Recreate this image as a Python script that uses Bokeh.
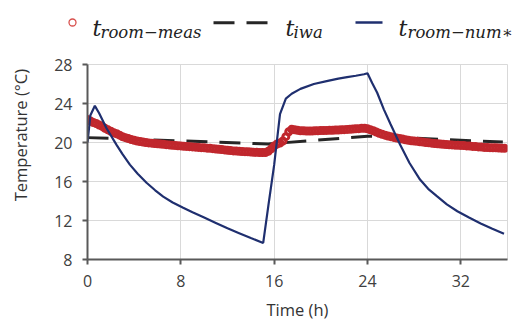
import numpy as np
from bokeh.plotting import figure
from bokeh.layouts import column, row
from bokeh.models import Range1d, FixedTicker
from bokeh.core.properties import value
from bokeh.embed import file_html
from bokeh.resources import INLINE

# ---------------- data ----------------
# measured room temperature, sampled every 15 min
meas_time = [i * 0.25 for i in range(144)]
meas_temp = [
    22.35, 22.2, 22.05, 21.95, 21.8, 21.65, 21.45, 21.3,
    21.15, 21.0, 20.9, 20.75, 20.6, 20.5, 20.4, 20.3,
    20.22, 20.15, 20.1, 20.05, 20.0, 19.96, 19.93, 19.9,
    19.87, 19.84, 19.81, 19.78, 19.75, 19.72, 19.7, 19.67,
    19.65, 19.62, 19.6, 19.57, 19.55, 19.52, 19.5, 19.47,
    19.45, 19.42, 19.4, 19.37, 19.33, 19.3, 19.27, 19.24,
    19.2, 19.17, 19.14, 19.12, 19.1, 19.08, 19.06, 19.04,
    19.02, 19.0, 18.99, 18.98, 18.97, 18.98, 19.1, 19.35,
    19.65, 19.85, 19.95, 20.15, 20.6, 21.1, 21.35, 21.3,
    21.25, 21.2, 21.2, 21.18, 21.18, 21.18, 21.2, 21.2,
    21.22, 21.22, 21.24, 21.25, 21.26, 21.27, 21.28, 21.3,
    21.32, 21.34, 21.36, 21.38, 21.4, 21.42, 21.45, 21.45,
    21.4, 21.3, 21.2, 21.08, 20.95, 20.85, 20.75, 20.67,
    20.6, 20.52, 20.45, 20.4, 20.35, 20.28, 20.22, 20.18,
    20.15, 20.12, 20.08, 20.04, 20.0, 19.97, 19.93, 19.9,
    19.87, 19.85, 19.82, 19.8, 19.77, 19.75, 19.73, 19.71,
    19.7, 19.68, 19.65, 19.63, 19.6, 19.58, 19.55, 19.53,
    19.5, 19.49, 19.47, 19.46, 19.45, 19.43, 19.42, 19.4,
]

# numerical room temperature
num_time = [0, 0.25, 0.63, 1.0, 1.63, 2.49, 3.0, 3.63, 4.3, 5.06, 5.8, 6.49, 7.3,
            8.2, 9.0, 10.0, 11.0, 12.0, 13.0, 14.0, 15.06, 15.5, 16.0, 16.5, 17.0,
            17.5, 18.25, 19.4, 20.5, 21.5, 22.25, 23.0, 23.7, 24.0, 24.4, 24.83,
            25.4, 25.97, 26.8, 27.6, 28.5, 29.2, 29.97, 30.8, 31.7, 32.7, 33.7,
            34.7, 35.7]
num_temp = [20.0, 22.8, 23.76, 23.0, 21.46, 19.76, 18.8, 17.73, 16.8, 15.87, 15.1, 14.45, 13.85,
            13.3, 12.85, 12.3, 11.75, 11.2, 10.7, 10.2, 9.7, 13.5, 17.7, 22.9, 24.5,
            25.0, 25.5, 26.0, 26.3, 26.55, 26.7, 26.85, 27.0, 27.1, 26.1, 25.1,
            23.4, 21.9, 19.77, 17.9, 16.2, 15.25, 14.47, 13.65, 12.95, 12.3, 11.7,
            11.15, 10.65]

# t_iwa
iwa_time = [0, 15.5, 24.0, 35.6]
iwa_temp = [20.5, 19.85, 20.65, 20.05]

x_ticks = [0, 8, 16, 24, 32]
y_ticks = [8, 12, 16, 20, 24, 28]

legend_main = ["t", "t", "t"]
legend_sub = ["room\u2212meas", "iwa", "room\u2212num\u2217"]
x_title = "Time (h)"
y_title = "Temperature (\u00b0C)"

# ---------------- style ----------------
RED = "#C0272D"
NAVY = "#1F2F6F"
DARK = "#262626"
GRID = "#D9D9D9"
AXIS = "#595959"
TXT = "#404040"
TITLE = "#333333"
FONT = "Open Sans"

W = 517
LEG_H = 44
MAIN_H = 279
YL_W = 40

# ---------------- legend strip ----------------
leg = figure(width=W, height=LEG_H, x_range=Range1d(0, W), y_range=Range1d(LEG_H, 0),
             toolbar_location=None, output_backend="svg",
             x_axis_type=None, y_axis_type=None, min_border=0,
             outline_line_color=None)
leg.scatter([72], [22], marker="circle", size=7, fill_color=None,
            line_color="#D8504D", line_width=1.3)
leg.line([213, 267], [22.3, 22.3], line_color=DARK, line_width=3, line_dash="21 12")
leg.line([355, 382], [22, 22], line_color=NAVY, line_width=2.5)
leg.text(x=[92, 285, 398], y=[28, 28, 28], text=legend_main,
         text_font=value("DejaVu Serif"), text_font_style="italic",
         text_font_size="22px", text_color="#222222",
         text_baseline="alphabetic", text_align="left")
leg.text(x=[100, 293, 407], y=[32, 32, 32], text=legend_sub,
         text_font=value("DejaVu Serif"), text_font_style="italic",
         text_font_size="16.5px", text_color="#222222",
         text_baseline="alphabetic", text_align="left")

# ---------------- y title strip ----------------
ylab = figure(width=YL_W, height=MAIN_H, x_range=Range1d(0, YL_W),
              y_range=Range1d(LEG_H + MAIN_H, LEG_H),
              toolbar_location=None, output_backend="svg",
              x_axis_type=None, y_axis_type=None, min_border=0,
              outline_line_color=None)
ylab.text(x=[20], y=[145], text=[y_title], angle=np.pi / 2,
          text_font=value(FONT), text_font_size="16.5px", text_color=TITLE,
          text_align="center", text_baseline="middle")

# ---------------- main chart ----------------
p = figure(width=W - YL_W, height=MAIN_H, x_range=Range1d(0, 36), y_range=Range1d(8, 28),
           toolbar_location=None, output_backend="svg",
           min_border_left=87 - YL_W, min_border_right=W - YL_W - (87 - YL_W) - 420,
           min_border_top=64 - LEG_H, min_border_bottom=LEG_H + MAIN_H - 261)
p.outline_line_color = GRID
p.outline_line_width = 1
p.grid.grid_line_color = GRID
p.grid.grid_line_width = 1
p.xaxis.ticker = FixedTicker(ticks=x_ticks)
p.yaxis.ticker = FixedTicker(ticks=y_ticks)
p.xgrid.ticker = FixedTicker(ticks=x_ticks)
p.ygrid.ticker = FixedTicker(ticks=y_ticks)
for ax in (p.xaxis, p.yaxis):
    ax.axis_line_color = AXIS
    ax.axis_line_width = 2
    ax.major_tick_line_color = AXIS
    ax.major_tick_line_width = 2
    ax.major_tick_out = 5
    ax.major_tick_in = 0
    ax.minor_tick_line_color = None
    ax.major_label_text_font = FONT
    ax.major_label_text_font_size = "16px"
    ax.major_label_text_color = TXT
p.xaxis.major_label_standoff = 10
p.yaxis.major_label_standoff = 10
p.xaxis.axis_label = x_title
p.xaxis.axis_label_text_font = FONT
p.xaxis.axis_label_text_font_size = "16.5px"
p.xaxis.axis_label_text_font_style = "normal"
p.xaxis.axis_label_text_color = TITLE
p.xaxis.axis_label_standoff = 8

p.line(iwa_time, iwa_temp, line_color=DARK, line_width=3, line_dash="21 12")
p.scatter(meas_time, meas_temp, marker="circle", size=6, fill_color=None,
          line_color=RED, line_width=3)
p.line(num_time, num_temp, line_color=NAVY, line_width=2.2)

layout = column(leg, row(ylab, p, spacing=0), spacing=0)
open("out.html", "w").write(file_html(layout, INLINE))
